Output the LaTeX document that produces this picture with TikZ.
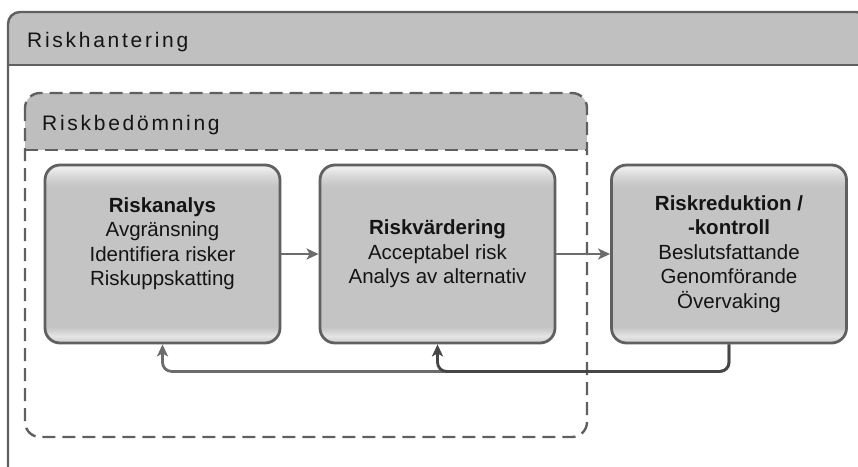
\documentclass[tikz,border=0pt]{standalone}
\usepackage{fontspec}
\setmainfont{Liberation Sans}
\usetikzlibrary{arrows.meta}
\definecolor{border}{RGB}{96,96,96}
\definecolor{hdrfill}{RGB}{192,192,192}
\definecolor{hdrfilltwo}{RGB}{190,190,190}
\definecolor{boxlow}{RGB}{206,206,206}
\definecolor{boxbot}{RGB}{228,228,228}
\definecolor{boxmid}{RGB}{196,196,196}
\definecolor{boxtoptwo}{RGB}{216,216,216}
\definecolor{boxtop}{RGB}{236,236,236}
\definecolor{arrowgray}{RGB}{108,108,108}
\definecolor{arrowdark}{RGB}{70,70,70}
\definecolor{txt}{RGB}{20,20,20}
\pgfdeclareverticalshading{boxshade}{100bp}{color(0bp)=(boxlow); color(25bp)=(boxlow); color(27bp)=(boxbot); color(29.5bp)=(boxmid); color(69bp)=(boxmid); color(72bp)=(boxtoptwo); color(74bp)=(boxtop); color(100bp)=(boxtop)}
\tikzset{
  procbox/.style={draw=border, line width=2.8pt, shading=boxshade, rounded corners=15pt,
    minimum width=235pt, minimum height=178pt, inner sep=0pt},
  boxtext/.style={align=center, text=txt, font=\fontsize{20.5}{24.5}\selectfont, inner sep=0pt},
  hdrtext/.style={text=txt, inner sep=0pt, font=\fontsize{21}{24}\selectfont\addfontfeature{LetterSpace=13}},
  frameline/.style={draw=border, line width=2.4pt},
  dashline/.style={draw=border, line width=2.4pt, dash pattern=on 13pt off 7pt},
  flow/.style={draw=arrowgray, line width=2.8pt, -{Stealth[length=12pt,width=11pt,inset=3pt]}},
  fback/.style={flow, rounded corners=9pt},
}
\begin{document}
\begin{tikzpicture}[x=1pt,y=-1pt]
\useasboundingbox (0,0) rectangle (858,466);
\fill[white] (0,0) rectangle (858,466);
\begin{scope}
\clip (0,0) rectangle (858,466);
% outer frame
\begin{scope}
\clip[rounded corners=12pt] (8,12) rectangle (868,480);
\fill[hdrfill] (8,12) rectangle (868,65);
\end{scope}
\draw[frameline, rounded corners=12pt] (8,12) rectangle (868,480);
\draw[frameline] (8,65) -- (868,65);
\end{scope}
\node[hdrtext, anchor=base west] (rh) at (27,47) {Riskhantering};
% inner dashed frame
\begin{scope}
\clip[rounded corners=15pt] (25,93) rectangle (587,437);
\fill[hdrfilltwo] (25,93) rectangle (587,150);
\end{scope}
\draw[dashline, rounded corners=15pt] (25,93) rectangle (587,437);
\draw[dashline] (25,150) -- (587,150);
\node[hdrtext, anchor=base west] (rb) at (42,130) {Riskbedömning};
% boxes
\node[procbox] (ana) at (162.5,254) {};
\node[procbox] (val) at (437.5,254) {};
\node[procbox] (red) at (729,254) {};
\node[boxtext] (anat) at ([yshift=10.5pt]ana.center) {\textbf{Riskanalys}\\Avgränsning\\Identifiera risker\\Riskuppskatting};
\node[boxtext] (valt) at (val.center) {\textbf{Riskvärdering}\\Acceptabel risk\\Analys av alternativ};
\node[boxtext] (redt) at (red.center) {\textbf{Riskreduktion /}\\\textbf{-kontroll}\\Beslutsfattande\\Genomförande\\Övervaking};
% connectors
\draw[flow] (ana.east) -- (val.west);
\draw[flow] (val.east) -- (red.west);
\coordinate (turn) at ([yshift=-27pt]red.south);
\draw[fback] (red.south) -- (turn) -| (ana.south);
\draw[fback, draw=arrowdark] (red.south) -- (turn) -| (val.south);
\end{tikzpicture}
\end{document}
